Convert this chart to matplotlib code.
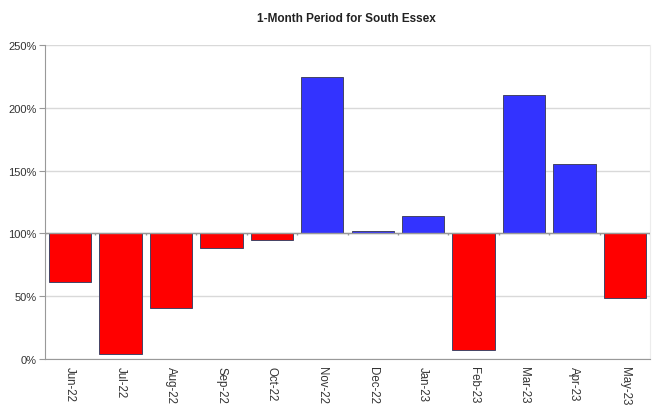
import matplotlib
matplotlib.use("Agg")
import matplotlib.pyplot as plt
import numpy as np

plt.rcParams["font.family"] = ["Liberation Sans", "DejaVu Sans"]

months = ["Jun-22", "Jul-22", "Aug-22", "Sep-22", "Oct-22", "Nov-22",
          "Dec-22", "Jan-23", "Feb-23", "Mar-23", "Apr-23", "May-23"]
pct = [61.5, 4.2, 40.8, 88.4, 95.2, 224.2, 102.3, 113.9, 7.4, 210.2, 155.3, 49.0]
BASE = 100.0
RED, BLUE, EDGE, GRID = "#ff0000", "#3333ff", "#444466", "#d9d9d9"

fig = plt.figure(figsize=(6.52, 4.06), dpi=100)
ax = fig.add_axes([0.069, 0.1125, 0.928, 0.775])

x = np.arange(len(months))
vals = np.array(pct)
colors = [BLUE if v >= BASE else RED for v in vals]
ax.bar(x, vals - BASE, bottom=BASE, width=0.84, color=colors,
       edgecolor=EDGE, linewidth=0.7, zorder=3)

ax.set_xlim(-0.5, len(months) - 0.5)
ax.set_ylim(0, 250)
ax.set_yticks(np.arange(0, 251, 50))
ax.set_yticklabels([f"{t}%" for t in range(0, 251, 50)])
ax.yaxis.grid(True, color=GRID, lw=1.0, zorder=0)
ax.set_axisbelow(True)

# category axis crosses at 100%, with small ticks between categories
ax.axhline(BASE, color="#999999", lw=1.0, zorder=4)
ax.vlines(np.arange(-0.5, len(months)), BASE - 1.6, BASE, color="#999999", lw=1.0, zorder=4)

ax.set_xticks(x)
ax.set_xticklabels(months, rotation=-90, va="top", ha="center", fontsize=8.3, color="#333333")
ax.tick_params(axis="x", length=0, pad=5)
ax.tick_params(axis="y", length=4, color="#999999", labelsize=8, labelcolor="#333333", pad=2)

ax.spines["top"].set_visible(False)
ax.spines["right"].set_color("#ececec")
ax.spines["left"].set_color("#999999")
ax.spines["bottom"].set_color("#999999")

fig.text(0.532, 0.953, "1-Month Period for South Essex", ha="center", va="center",
         fontsize=8.5, fontweight="bold", color="#222222")

fig.savefig("out.png", dpi=100)
